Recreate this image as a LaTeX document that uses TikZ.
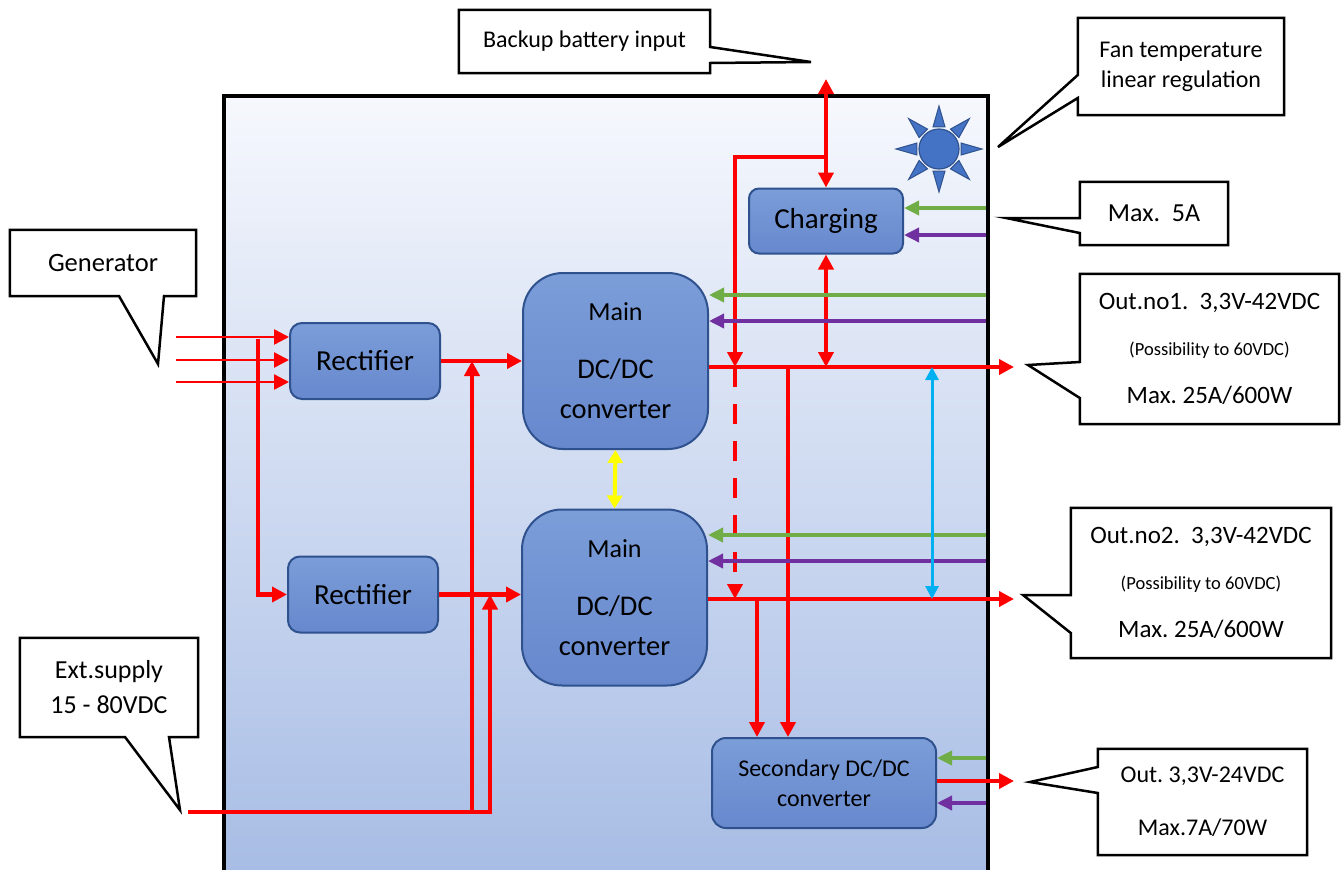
\documentclass[tikz,border=0pt]{standalone}
\usepackage{fontspec}
\setmainfont{Carlito}
\frenchspacing
\usetikzlibrary{arrows.meta}
\definecolor{pwrred}{HTML}{FF0000}
\definecolor{sensegreen}{HTML}{70AD47}
\definecolor{sensepurple}{HTML}{7030A0}
\definecolor{linkcyan}{HTML}{00B0F0}
\definecolor{syncyellow}{HTML}{FFFF00}
\definecolor{blkline}{HTML}{2F528F}
\definecolor{blkhi}{HTML}{7B9DD8}
\definecolor{blklo}{HTML}{6788CD}
\definecolor{fanblue}{HTML}{4472C4}
\definecolor{casehi}{RGB}{246,248,253}
\definecolor{caselo}{RGB}{168,189,229}
\newcommand{\fs}[1]{\fontsize{#1}{#1}\selectfont}
\begin{document}
\begin{tikzpicture}[x=1pt,y=-1pt,>={Triangle[length=15pt,width=15pt]},
	blk/.style={draw=blkline,line width=2pt,top color=blkhi,bottom color=blklo,rounded corners=#1,inner sep=0pt,align=center},
	callout/.style={inner sep=0pt,align=center},
	bubble/.style={draw=black,line width=2.5pt,line join=miter},
	pwr/.style={draw=pwrred,line width=4.5pt},
	phase/.style={draw=pwrred,line width=2.5pt},
	sense/.style={line width=3.5pt,>={Triangle[length=15pt,width=14pt]}},
	link/.style={draw=linkcyan,line width=3pt,>={Triangle[length=13pt,width=13pt]}},
	sync/.style={draw=syncyellow,line width=4pt,>={Triangle[length=13pt,width=15pt]}}]
	\useasboundingbox (0,0) rectangle (1344,870);
	\clip (0,0) rectangle (1344,870);
	% case
	\shade[top color=casehi,bottom color=caselo] (224,96) rectangle (988,870);
	\draw[line width=4pt] (224,880) -- (224,96) -- (988,96) -- (988,880);
	% blocks
	\node[blk=12pt,minimum width=150pt,minimum height=76pt,font=\fs{29}] (rectA) at (365,361) {Rectifier};
	\node[blk=12pt,minimum width=150pt,minimum height=76pt,font=\fs{29}] (rectB) at (363,594.5) {Rectifier};
	\node[blk=40pt,minimum width=185pt,minimum height=176pt,font=\fontsize{28.5}{40}\selectfont] (mainA) at (615.5,361) {{\fs{26}Main}\\[18pt]DC/DC\\converter};
	\node[blk=40pt,minimum width=185pt,minimum height=176pt,font=\fontsize{28.5}{40}\selectfont] (mainB) at (614.5,597.5) {{\fs{26}Main}\\[18pt]DC/DC\\converter};
	\node[blk=10pt,minimum width=154pt,minimum height=65pt,font=\fs{29}] (charger) at (826,221) {Charging};
	\node[blk=14pt,minimum width=224pt,minimum height=90pt,font=\fs{24}] (second) at (824,783) {Secondary DC/DC\\[6pt]converter};
	% fan
	\coordinate (fan) at (939,149);
	\foreach \a in {0,45,...,315}
		\draw[fill=fanblue,draw=blkline,line width=1pt,line join=miter] ([shift={(\a-15:23pt)}]fan) -- ([shift={(\a:43pt)}]fan) -- ([shift={(\a+15:23pt)}]fan) -- cycle;
	\draw[fill=fanblue,draw=blkline,line width=1.2pt] (fan) circle (20pt);
	% generator input
	\foreach \y [count=\i] in {337,360,382}{
		\coordinate (ph\i) at (176,\y);
		\draw[phase,->] (ph\i) -- (ph\i -| rectA.west);
	}
	\coordinate (tap) at (258,339);
	\draw[pwr,->] (tap) |- (rectB.west);
	\draw[pwr,->] (rectA.east) -- (rectA.east -| mainA.west);
	\draw[pwr,->] (rectB.east) -- (rectB.east -| mainB.west);
	% external supply
	\coordinate (ext) at (188,812);
	\coordinate (extA) at (472,812);
	\coordinate (extB) at (490,812);
	\draw[pwr,->] (ext) -- (extB) -- (extB |- rectB.east);
	\draw[pwr,->] (extA) -- (extA |- rectA.east);
	% outputs
	\coordinate (outA) at (1014,367);
	\coordinate (outB) at (1014,599);
	\coordinate (outC) at (1014,781);
	\draw[pwr,->] (mainA.east |- outA) -- (outA);
	\draw[pwr,->] (mainB.east |- outB) -- (outB);
	\draw[pwr,->] (second.east |- outC) -- (outC);
	% battery
	\coordinate (batin) at (826,79);
	\coordinate (batj) at (826,157);
	\coordinate (drop) at (735,157);
	\draw[pwr,<->] (batin) -- (charger.north);
	\draw[pwr,->] (batj) -- (drop) -- (drop |- outA);
	\draw[pwr,dash pattern=on 20pt off 17pt,->] (drop |- outA) -- (drop |- outB);
	\draw[pwr,<->] (charger.south) -- (charger.south |- outA);
	% secondary feed
	\coordinate (tapA) at (788,367);
	\coordinate (tapB) at (757,599);
	\draw[pwr,->] (tapA) -- (tapA |- second.north);
	\draw[pwr,->] (tapB) -- (tapB |- second.north);
	% sense lines
	\coordinate (wall) at (986,0);
	\foreach \nd/\yg/\yp in {charger/208/235,mainA/295/321,mainB/535/561,second/758/803}{
		\draw[sense,sensegreen,->] (wall |- 0,\yg) -- (\nd.east |- 0,\yg);
		\draw[sense,sensepurple,->] (wall |- 0,\yp) -- (\nd.east |- 0,\yp);
	}
	\coordinate (lnk) at (932,0);
	\draw[link,<->] (lnk |- outA) -- (lnk |- outB);
	\draw[sync,<->] (mainA.south) -- (mainB.north);
	% callouts
	\node[callout,minimum width=251pt,minimum height=63pt,font=\fs{24}] (bat) at (584.5,41.5) {Backup battery input};
	\draw[bubble] (bat.north west) -- (bat.north east) -- (bat.east |- 0,47) -- (811,62) -- (bat.east |- 0,63) -- (bat.south east) -- (bat.south west) -- cycle;
	\node[callout,minimum width=186pt,minimum height=66pt,font=\fs{26.5}] (gen) at (103,263) {Generator};
	\draw[bubble] (gen.north west) -- (gen.north east) -- (gen.south east) -- (164,296) -- (158,364) -- (119,296) -- (gen.south west) -- cycle;
	\node[callout,minimum width=178pt,minimum height=99pt,font=\fs{26}] (ext box) at (109,687.5) {Ext.supply\\[9pt]15 - 80VDC};
	\draw[bubble] (ext box.north west) -- (ext box.north east) -- (ext box.south east) -- (169,737) -- (180,810) -- (125,737) -- (ext box.south west) -- cycle;
	\node[callout,minimum width=206pt,minimum height=97pt,font=\fs{24}] (fan box) at (1181,66.5) {Fan temperature\\[6pt]linear regulation};
	\draw[bubble] (fan box.north west) -- (fan box.north east) -- (fan box.south east) -- (fan box.south west) -- (fan box.west |- 0,98) -- (998,147) -- (fan box.west |- 0,75) -- cycle;
	\node[callout,minimum width=148pt,minimum height=63pt,font=\fs{26}] (max box) at (1154,213.5) {Max.\ \ 5A};
	\draw[bubble] (max box.north west) -- (max box.north east) -- (max box.south east) -- (max box.south west) -- (max box.west |- 0,233) -- (1006,218) -- (max box.west |- 0,218) -- cycle;
	\node[callout,minimum width=259pt,minimum height=150pt,font=\fs{25}] (out1) at (1209.5,349) {Out.no1.\ \ 3,3V-42VDC\\[21pt]{\fs{18.5}(Possibility to 60VDC)}\\[23pt]Max. 25A/600W};
	\draw[bubble] (out1.north west) -- (out1.north east) -- (out1.south east) -- (out1.south west) -- (out1.west |- 0,398) -- (1028,365) -- (out1.west |- 0,362) -- cycle;
	\node[callout,minimum width=260pt,minimum height=150pt,font=\fs{25}] (out2) at (1201,583) {Out.no2.\ \ 3,3V-42VDC\\[21pt]{\fs{18.5}(Possibility to 60VDC)}\\[23pt]Max. 25A/600W};
	\draw[bubble] (out2.north west) -- (out2.north east) -- (out2.south east) -- (out2.south west) -- (out2.west |- 0,633) -- (1023,595) -- (out2.west |- 0,595) -- cycle;
	\node[callout,minimum width=209pt,minimum height=106pt,font=\fs{24}] (out3) at (1202.5,802) {Out. 3,3V-24VDC\\[29pt]Max.7A/70W};
	\draw[bubble] (out3.north west) -- (out3.north east) -- (out3.south east) -- (out3.south west) -- (out3.west |- 0,793) -- (1030,782) -- (out3.west |- 0,767) -- cycle;
\end{tikzpicture}
\end{document}
